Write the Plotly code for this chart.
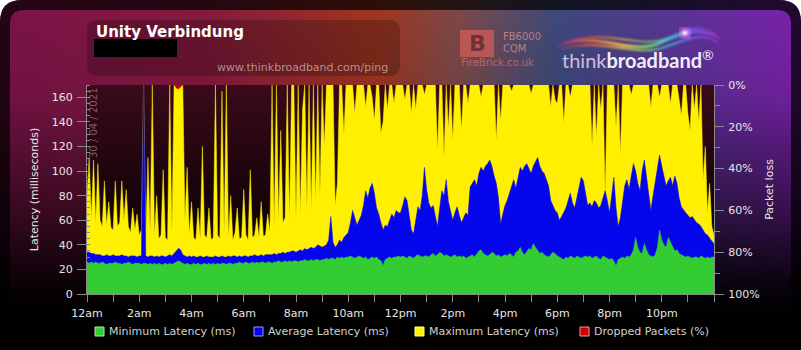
import base64
import plotly.graph_objects as go

# ---------------- data (5-minute samples across the day) ----------------
hour_labels = ["12am", "2am", "4am", "6am", "8am", "10am", "12pm", "2pm", "4pm", "6pm", "8pm", "10pm"]
series_names = ["Minimum Latency (ms)", "Average Latency (ms)", "Maximum Latency (ms)", "Dropped Packets (%)"]
date_label = "30 / 04 / 2021"

minutes = list(range(0, 24 * 60 + 1, 5))

max_latency = [
    80, 111, 62, 109, 58, 106, 60, 55, 92, 56, 75, 54,
    52, 92, 55, 58, 92, 60, 85, 55, 50, 70, 52, 65,
    48, 52, 170, 45, 111, 50, 170, 48, 80, 45, 48, 101,
    46, 44, 170, 50, 170, 170, 170, 170, 170, 60, 103, 48,
    75, 46, 44, 70, 45, 120, 48, 46, 70, 44, 46, 170,
    48, 45, 165, 50, 170, 46, 80, 44, 50, 70, 45, 46,
    85, 48, 44, 101, 46, 48, 62, 46, 75, 47, 48, 65,
    50, 170, 55, 170, 60, 133, 58, 62, 170, 60, 170, 170,
    62, 170, 65, 150, 170, 70, 170, 68, 170, 75, 170, 80,
    170, 120, 170, 170, 170, 170, 72, 90, 170, 170, 130, 170,
    170, 170, 170, 147, 170, 170, 170, 170, 152, 170, 170, 160,
    141, 170, 170, 131, 140, 170, 150, 170, 170, 155, 170, 170,
    170, 170, 158, 170, 170, 147, 170, 150, 170, 170, 170, 162,
    170, 170, 170, 170, 170, 117, 170, 170, 111, 170, 135, 170,
    125, 170, 170, 170, 133, 170, 170, 155, 170, 170, 170, 170,
    170, 160, 170, 170, 170, 170, 170, 170, 125, 170, 141, 170,
    170, 170, 170, 165, 170, 170, 170, 170, 170, 170, 170, 170,
    163, 170, 170, 170, 170, 170, 170, 170, 170, 152, 170, 158,
    155, 170, 170, 139, 170, 170, 160, 170, 170, 170, 170, 170,
    170, 170, 170, 170, 120, 170, 128, 170, 150, 170, 80, 170,
    170, 170, 170, 136, 170, 114, 170, 170, 170, 170, 162, 170,
    170, 170, 170, 170, 170, 170, 170, 152, 170, 170, 170, 160,
    170, 170, 170, 170, 155, 170, 170, 170, 158, 145, 170, 170,
    147, 133, 170, 150, 170, 140, 170, 93, 120, 66, 90, 55,
    48,
]

avg_latency = [
    34, 34, 33, 33, 32, 32, 32, 31, 31, 32, 31, 31,
    32, 31, 31, 31, 32, 31, 31, 30, 31, 31, 31, 30,
    31, 31, 170, 31, 30, 31, 31, 30, 31, 30, 31, 31,
    30, 31, 32, 31, 33, 35, 37, 36, 32, 31, 30, 31,
    30, 31, 30, 30, 31, 30, 30, 31, 30, 30, 30, 31,
    30, 30, 31, 30, 30, 31, 30, 31, 31, 30, 31, 30,
    31, 31, 30, 31, 31, 32, 31, 31, 32, 31, 32, 32,
    32, 32, 33, 32, 33, 33, 34, 33, 34, 34, 35, 35,
    34, 35, 36, 35, 37, 36, 37, 38, 37, 38, 40, 39,
    38, 39, 40, 44, 63, 42, 38, 40, 44, 42, 46, 48,
    50, 58, 68, 62, 56, 60, 64, 72, 84, 78, 86, 90,
    82, 70, 65, 58, 52, 56, 55, 60, 65, 62, 68, 66,
    66, 72, 79, 76, 62, 52, 49, 60, 71, 68, 80, 103,
    85, 74, 70, 72, 62, 55, 70, 84, 80, 93, 75, 68,
    60, 66, 71, 64, 58, 62, 66, 64, 87, 90, 93, 88,
    98, 103, 100, 104, 106, 109, 104, 96, 90, 78, 57, 65,
    72, 76, 82, 88, 93, 86, 96, 103, 100, 104, 106, 102,
    98, 104, 108, 111, 104, 100, 98, 92, 88, 76, 72, 68,
    66, 60, 63, 66, 70, 76, 82, 74, 70, 78, 88, 95,
    92, 80, 72, 74, 71, 76, 74, 70, 72, 78, 84, 76,
    66, 80, 95, 70, 55, 62, 76, 88, 93, 85, 96, 106,
    100, 90, 84, 100, 109, 96, 80, 68, 80, 92, 104, 113,
    104, 96, 88, 92, 95, 88, 96, 90, 78, 71, 68, 66,
    64, 62, 63, 60, 58, 57, 55, 52, 49, 48, 45, 43,
    41,
]

min_latency = [
    26, 25, 26, 25, 26, 25, 25, 26, 25, 24, 25, 25,
    25, 26, 25, 25, 24, 25, 25, 26, 25, 24, 25, 25,
    25, 24, 25, 25, 24, 25, 24, 25, 24, 25, 24, 24,
    25, 24, 25, 24, 25, 26, 27, 26, 25, 24, 25, 24,
    24, 25, 24, 25, 24, 24, 25, 24, 25, 24, 25, 24,
    25, 24, 25, 25, 24, 25, 25, 24, 25, 25, 26, 25,
    25, 26, 25, 25, 26, 25, 26, 25, 26, 26, 25, 26,
    26, 25, 26, 26, 27, 26, 26, 27, 26, 27, 26, 27,
    27, 26, 27, 27, 28, 27, 27, 28, 27, 28, 28, 27,
    28, 28, 29, 28, 29, 29, 28, 30, 29, 30, 29, 30,
    30, 31, 30, 29, 30, 31, 30, 29, 30, 28, 29, 30,
    29, 30, 28, 27, 23, 28, 29, 30, 29, 30, 30, 31,
    30, 31, 30, 29, 31, 30, 29, 31, 32, 31, 30, 31,
    31, 30, 32, 33, 31, 32, 34, 33, 31, 32, 31, 30,
    31, 32, 30, 31, 30, 31, 29, 30, 31, 32, 30, 33,
    35, 36, 33, 32, 31, 32, 34, 33, 31, 32, 30, 31,
    32, 31, 33, 32, 30, 34, 35, 38, 34, 32, 35, 37,
    36, 41, 38, 35, 33, 34, 32, 31, 30, 32, 34, 33,
    31, 30, 29, 28, 30, 29, 31, 30, 29, 31, 30, 29,
    30, 31, 30, 31, 29, 30, 31, 29, 28, 31, 30, 29,
    28, 29, 27, 23, 28, 29, 30, 29, 31, 30, 32, 36,
    46, 38, 34, 33, 41, 36, 32, 31, 30, 32, 38, 52,
    44, 40, 38, 46, 42, 38, 35, 36, 33, 32, 31, 30,
    31, 30, 29, 30, 30, 29, 31, 30, 29, 30, 29, 30,
    30,
]

dropped_minutes = [200, 205, 210, 215, 220]
dropped_pct = [0, 1.5, 2.0, 1.0, 0]

# ---------------- colours ----------------
C_MIN, C_AVG, C_MAX, C_DROP = "#33cc33", "#0505ee", "#fff000", "#cc0000"
EDGE = ["#a8f0a8", "#9a9aff", "#ffff99", "#ff9a9a"]

W, H = 801, 350
L, R, T, B = 87, 87, 85, 56
PW, PH = W - L - R, H - T - B


def X(px):
    return (px - L) / PW


def Y(py):
    return (T + PH - py) / PH


# ---------------- background artwork (gradients only, no text) ----------------
svg = f"""<svg xmlns="http://www.w3.org/2000/svg" width="{W}" height="{H}" viewBox="0 0 {W} {H}">
<defs>
<linearGradient id="h" x1="0" y1="0" x2="1" y2="0">
<stop offset="0" stop-color="#7c1449"/>
<stop offset="0.25" stop-color="#861a3e"/>
<stop offset="0.47" stop-color="#a0361f"/>
<stop offset="0.58" stop-color="#7a4a4c"/>
<stop offset="0.7" stop-color="#3e4a7c"/>
<stop offset="0.86" stop-color="#5a3496"/>
<stop offset="1" stop-color="#7a22aa"/>
</linearGradient>
<linearGradient id="v" x1="0" y1="0" x2="0" y2="1">
<stop offset="0" stop-color="#000" stop-opacity="0"/>
<stop offset="0.28" stop-color="#000" stop-opacity="0.1"/>
<stop offset="0.6" stop-color="#000" stop-opacity="0.55"/>
<stop offset="0.82" stop-color="#000" stop-opacity="0.93"/>
<stop offset="0.9" stop-color="#000" stop-opacity="1"/>
</linearGradient>
<linearGradient id="p" x1="0" y1="0" x2="0" y2="1">
<stop offset="0" stop-color="#3a0a1a"/>
<stop offset="0.5" stop-color="#1a040b"/>
<stop offset="1" stop-color="#060103"/>
</linearGradient>
<linearGradient id="rb" x1="0" y1="0" x2="1" y2="0">
<stop offset="0" stop-color="#ff3070" stop-opacity="0.2"/>
<stop offset="0.2" stop-color="#ff6a30"/>
<stop offset="0.4" stop-color="#ffd040"/>
<stop offset="0.55" stop-color="#80e060"/>
<stop offset="0.7" stop-color="#40c0e0"/>
<stop offset="0.85" stop-color="#7060ff"/>
<stop offset="1" stop-color="#e040ff" stop-opacity="0.3"/>
</linearGradient>
<filter id="bl"><feGaussianBlur stdDeviation="1.2"/></filter>
<filter id="bl2"><feGaussianBlur stdDeviation="3"/></filter>
</defs>
<rect width="{W}" height="{H}" fill="#ffffff"/>
<path d="M0,22 Q0,0 22,0 L779,0 Q801,0 801,22 L801,350 L0,350 Z" fill="url(#h)"/>
<path d="M0,22 Q0,0 22,0 L779,0 Q801,0 801,22 L801,350 L0,350 Z" fill="#000" fill-opacity="0.72"/>
<path d="M10,24 Q10,10 24,10 L777,10 Q791,10 791,24 L791,350 L10,350 Z" fill="url(#h)"/>
<rect x="0" y="0" width="{W}" height="{H}" fill="url(#v)"/>
<rect x="87" y="20" width="313" height="56" rx="9" fill="#000" fill-opacity="0.22"/>
<rect x="{L}" y="{T}" width="{PW}" height="{PH}" fill="url(#p)"/>
<g fill="none" stroke="url(#rb)" filter="url(#bl)">
<path d="M557,46 C600,30 630,56 660,43 S700,28 720,38" stroke-width="2.5"/>
<path d="M560,49 C605,37 635,58 665,47 S705,33 718,43" stroke-width="1.8"/>
<path d="M565,42 C610,28 640,50 668,38 S700,26 716,34" stroke-width="1.4"/>
</g>
<circle cx="685" cy="33" r="5" fill="#ff90ff" filter="url(#bl2)"/>
<circle cx="685" cy="33" r="2" fill="#ffffff" filter="url(#bl)"/>
</svg>"""
bg_src = "data:image/svg+xml;base64," + base64.b64encode(svg.encode("utf-8")).decode("ascii")

# ---------------- figure ----------------
hours = [m / 60 for m in minutes]
fig = go.Figure()
fig.add_trace(go.Scatter(x=hours, y=max_latency, name=series_names[2], mode="lines",
                         line=dict(color=C_MAX, width=0.5), fill="tozeroy", fillcolor=C_MAX))
fig.add_trace(go.Scatter(x=hours, y=avg_latency, name=series_names[1], mode="lines",
                         line=dict(color=C_AVG, width=0.5), fill="tozeroy", fillcolor=C_AVG))
fig.add_trace(go.Scatter(x=hours, y=min_latency, name=series_names[0], mode="lines",
                         line=dict(color=C_MIN, width=0.5), fill="tozeroy", fillcolor=C_MIN))
fig.add_trace(go.Scatter(x=[m / 60 for m in dropped_minutes], y=dropped_pct, name=series_names[3],
                         mode="lines", line=dict(color=C_DROP, width=0), fill="tozeroy",
                         fillcolor=C_DROP, yaxis="y2"))

FONT = "DejaVu Sans"
axis_col = "#8a8a8a"
tick_font = dict(family=FONT, size=11, color="#e6e6e6")

tickvals = list(range(0, 24, 2))

fig.update_layout(
    width=W, height=H,
    margin=dict(l=L, r=R, t=T, b=B, pad=0),
    paper_bgcolor="#ffffff",
    plot_bgcolor="rgba(0,0,0,0)",
    showlegend=False,
    hovermode=False,
    font=dict(family=FONT, color="#e6e6e6"),
    xaxis=dict(range=[0, 24], tickmode="array", tickvals=tickvals, ticktext=hour_labels,
               ticks="outside", ticklen=7, tickcolor=axis_col, showline=True, linecolor=axis_col,
               showgrid=False, zeroline=False, tickfont=tick_font, ticklabelstandoff=2,
               minor=dict(tickmode="linear", tick0=0, dtick=1, ticks="outside", ticklen=7,
                          tickcolor=axis_col, showgrid=False)),
    yaxis=dict(range=[0, 170], dtick=20, tick0=0, ticks="outside", ticklen=9,
               tickcolor=axis_col, showline=True, linecolor=axis_col, showgrid=False,
               zeroline=False, tickfont=tick_font, ticklabelstandoff=2,
               minor=dict(dtick=5, ticks="inside", ticklen=3, tickcolor=axis_col),
               title=dict(text="Latency (milliseconds)", font=dict(family=FONT, size=11, color="#e6e6e6"),
                          standoff=10)),
    yaxis2=dict(range=[100, 0], overlaying="y", side="right", dtick=20, tick0=0,
                ticksuffix="%", ticks="outside", ticklen=9, tickcolor=axis_col,
                showline=True, linecolor=axis_col, showgrid=False, zeroline=False,
                tickfont=tick_font, ticklabelstandoff=2,
                minor=dict(dtick=10, ticks="outside", ticklen=5, tickcolor=axis_col),
                title=dict(text="Packet loss", font=dict(family=FONT, size=11, color="#e6e6e6"),
                           standoff=6)),
    images=[dict(source=bg_src, xref="paper", yref="paper", x=X(0), y=Y(0),
                 sizex=W / PW, sizey=H / PH, xanchor="left", yanchor="top",
                 sizing="stretch", layer="below")],
)

shapes = [
    # redaction block under the title
    dict(type="rect", xref="paper", yref="paper", x0=X(94), x1=X(177), y0=Y(57), y1=Y(39),
         fillcolor="#000000", line=dict(width=0)),
    # FireBrick badge
    dict(type="rect", xref="paper", yref="paper", x0=X(460), x1=X(494), y0=Y(57), y1=Y(30),
         fillcolor="rgba(205,92,86,0.78)", line=dict(width=0)),
]
legend_boxes = [(95, C_MIN, EDGE[0]), (254, C_AVG, EDGE[1]), (415, C_MAX, EDGE[2]), (580, C_DROP, EDGE[3])]
for x0, fc, ec in legend_boxes:
    shapes.append(dict(type="rect", xref="paper", yref="paper", x0=X(x0), x1=X(x0 + 9),
                       y0=Y(336), y1=Y(327), fillcolor=fc, line=dict(color=ec, width=1)))
fig.update_layout(shapes=shapes)

ann = []


def add_text(text, px, py, size, color, xanchor="left", family=FONT, angle=0):
    ann.append(dict(text=text, xref="paper", yref="paper", x=X(px), y=Y(py), xanchor=xanchor,
                    yanchor="middle", showarrow=False, textangle=angle,
                    font=dict(family=family, size=size, color=color)))


add_text("<b>Unity Verbindung</b>", 94, 32, 15, "#ffffff")
add_text("www.thinkbroadband.com/ping", 390, 67, 11, "rgba(215,195,195,0.7)", xanchor="right")
add_text("<b>B</b>", 477, 43, 22, "rgba(95,45,50,0.85)", xanchor="center")
add_text("FB6000", 501, 37, 10, "rgba(210,150,150,0.75)")
add_text("CQM", 501, 48, 10, "rgba(210,150,150,0.75)")
add_text("FireBrick.co.uk", 459, 63, 10, "rgba(205,110,100,0.85)")
add_text("<span style='color:#cdbfdc'>think</span><b>broadband</b><sup>®</sup>", 560, 59, 20,
         "#f2ecf8", family="Lato")
add_text(date_label, 93, 123, 10, "rgba(200,165,165,0.55)", xanchor="center", angle=-90)
for (x0, _, _), name in zip(legend_boxes, series_names):
    add_text(name, x0 + 12, 331.5, 11, "#d0d0d0")
fig.update_layout(annotations=ann)

fig.write_html("out.html", config={"displayModeBar": False})
